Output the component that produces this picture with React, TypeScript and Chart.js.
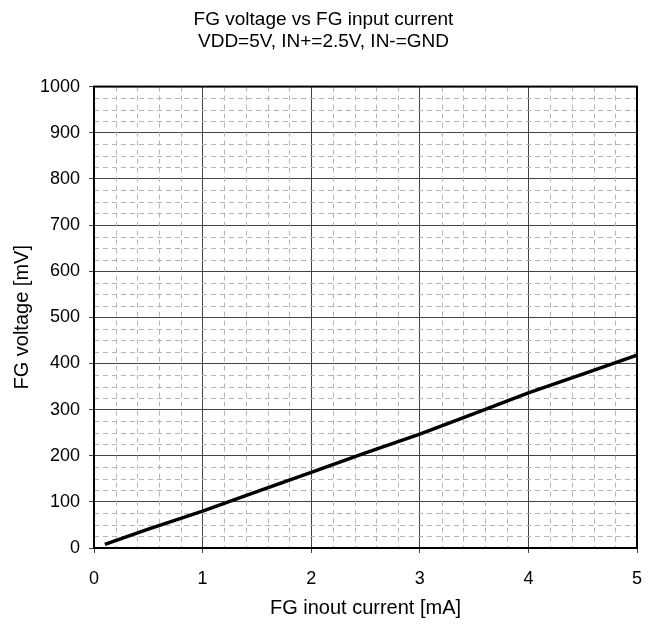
import React, { useEffect, useRef } from "react";
import { Chart, registerables } from "chart.js";

Chart.register(...registerables);

const currentMA = [0.1, 0.5, 1, 1.5, 2, 2.5, 3, 3.5, 4, 4.5, 5];
const voltageMV = [8, 41, 80, 122, 164, 206, 247, 291, 336, 377, 418];
const titleLines = ["FG voltage vs FG input current", "VDD=5V, IN+=2.5V, IN-=GND"];
const xTitle = "FG inout current [mA]";
const yTitle = "FG voltage [mV]";

const FONT = "'Liberation Sans', Arial, sans-serif";

const minorGrid = {
  id: "minorGrid",
  beforeDatasetsDraw(chart: any) {
    const { ctx, chartArea, scales } = chart;
    const x = scales.x;
    const y = scales.y;
    ctx.save();
    ctx.strokeStyle = "#b4b4b4";
    ctx.lineWidth = 1;
    ctx.setLineDash([5, 4]);
    for (let i = 1; i < 25; i++) {
      if (i % 5 === 0) continue;
      const v = i * 0.2;
      const px = Math.round(x.getPixelForValue(v)) + 0.5;
      ctx.beginPath();
      ctx.moveTo(px, chartArea.top);
      ctx.lineTo(px, chartArea.bottom);
      ctx.stroke();
    }
    for (let i = 1; i < 40; i++) {
      if (i % 4 === 0) continue;
      const v = i * 25;
      const py = Math.round(y.getPixelForValue(v)) + 0.5;
      ctx.beginPath();
      ctx.moveTo(chartArea.left, py);
      ctx.lineTo(chartArea.right, py);
      ctx.stroke();
    }
    ctx.setLineDash([]);
    ctx.strokeStyle = "#000";
    ctx.lineWidth = 2;
    ctx.strokeRect(chartArea.left, chartArea.top, chartArea.right - chartArea.left, chartArea.bottom - chartArea.top);
    ctx.restore();
  },
};

export default function App() {
  const ref = useRef<HTMLCanvasElement>(null);
  useEffect(() => {
    if (!ref.current) return;
    const chart = new Chart(ref.current, {
      type: "line",
      data: {
        datasets: [
          {
            data: currentMA.map((c, i) => ({ x: c, y: voltageMV[i] })),
            borderColor: "#000",
            borderWidth: 3.5,
            pointRadius: 0,
            tension: 0,
          },
        ],
      },
      options: {
        animation: false,
        responsive: false,
        layout: { padding: { left: 2, right: 13, top: 0, bottom: 0 } },
        plugins: {
          legend: { display: false },
          tooltip: { enabled: false },
          title: {
            display: true,
            text: titleLines,
            color: "#000",
            font: { family: FONT, size: 19, weight: "normal", lineHeight: 1.2 },
            padding: { top: 0, bottom: 33 },
          },
        },
        scales: {
          x: {
            type: "linear",
            min: 0,
            max: 5,
            ticks: { stepSize: 1, color: "#000", font: { family: FONT, size: 18 }, padding: 15 },
            grid: { color: "#444", lineWidth: 1, tickLength: 5 },
            border: { color: "#000", width: 2 },
            title: {
              display: true,
              text: xTitle,
              color: "#000",
              font: { family: FONT, size: 20, lineHeight: 1 },
              padding: { top: 0, bottom: 0 },
            },
            afterFit: (s: any) => {
              s.height = 70;
              s.paddingLeft = 0;
              s.paddingRight = 0;
            },
          },
          y: {
            type: "linear",
            min: 0,
            max: 1000,
            ticks: {
              stepSize: 100,
              color: "#000",
              font: { family: FONT, size: 18 },
              padding: 9,
              callback: (v: any) => String(v),
            },
            grid: { color: "#444", lineWidth: 1, tickLength: 5 },
            border: { color: "#000", width: 2 },
            title: {
              display: true,
              text: yTitle,
              color: "#000",
              font: { family: FONT, size: 20 },
              padding: { top: 0, bottom: 0 },
            },
            afterFit: (s: any) => {
              s.width = 84;
              s.paddingTop = 0;
              s.paddingBottom = 0;
            },
          },
        },
      },
      plugins: [minorGrid],
    });
    return () => chart.destroy();
  }, []);
  return (
    <div style={{ width: 642, height: 610 }}>
      <canvas ref={ref} width={642} height={610} style={{ display: "block" }} />
    </div>
  );
}
